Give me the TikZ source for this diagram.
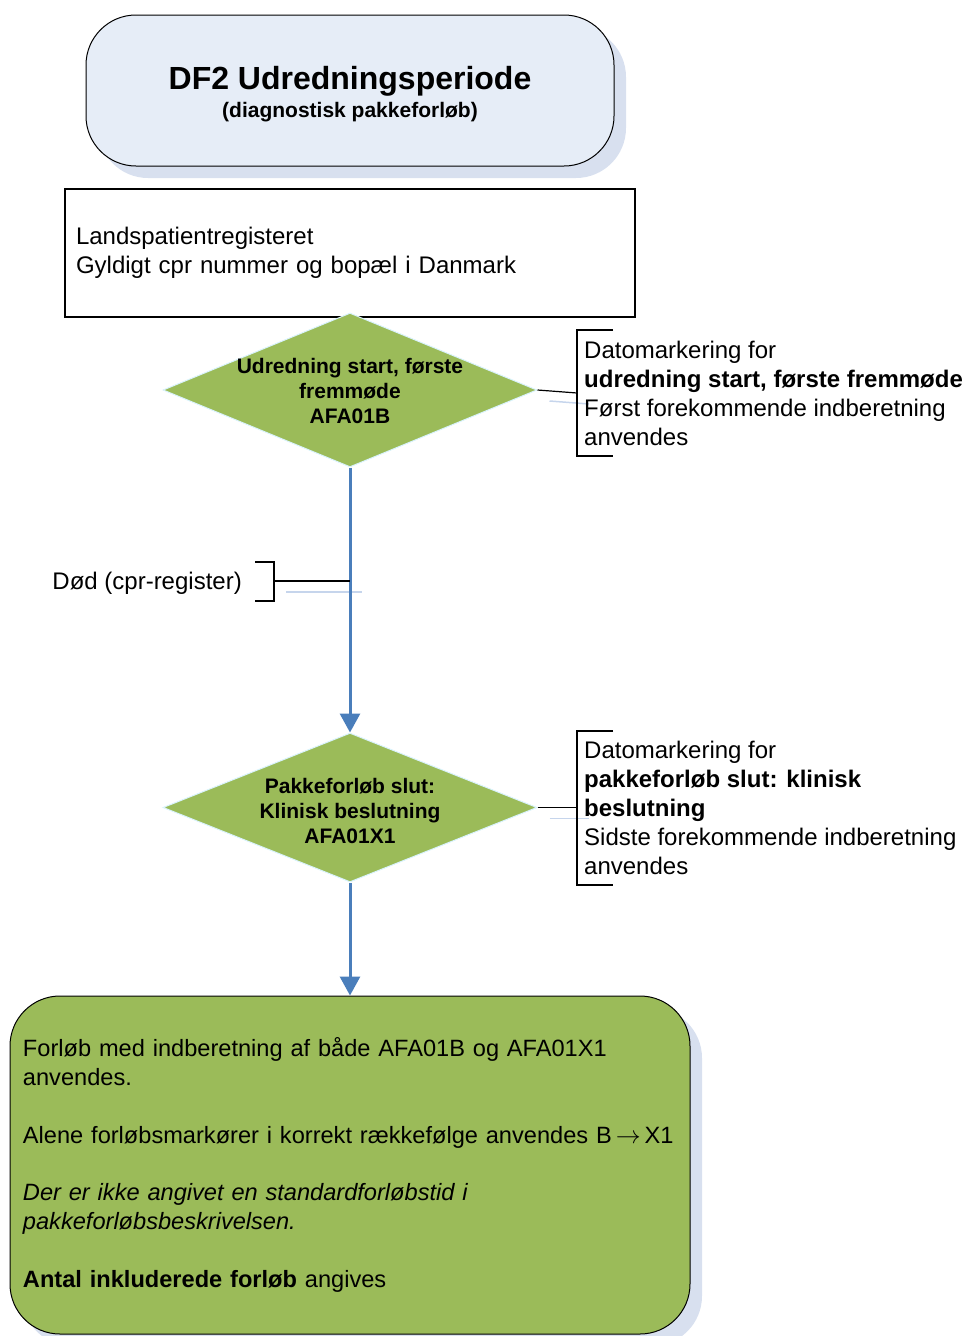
\documentclass[tikz,border=0pt]{standalone}
\usepackage{fontspec}
\setmainfont{Liberation Sans}
\usetikzlibrary{positioning, arrows.meta, shapes.geometric, shadows, backgrounds}
\definecolor{LeafGreen}{HTML}{9BBB59}
\definecolor{PaleBlue}{HTML}{E6EDF7}
\definecolor{ShadeBlue}{HTML}{D8E0EF}
\definecolor{FlowBlue}{HTML}{4A7EBB}
\definecolor{GhostBlue}{HTML}{C6D5EC}

\begin{document}
\begin{tikzpicture}[x=1pt, y=-1pt,
  bodytext/.style={font=\fontsize{24}{29}\selectfont},
  decision/.style={diamond, draw=cyan!15, line width=1pt, fill=LeafGreen,
    minimum width=374pt, inner sep=0pt},
  decisiontext/.style={font=\fontsize{21}{25}\selectfont\bfseries, align=center, inner sep=0pt},
  note/.style={bodytext, align=left, anchor=west, inner sep=0pt},
  bracketline/.style={line width=1.5pt, black},
  flow/.style={FlowBlue, line width=3pt, -{Triangle[width=20pt,length=19pt]}},
  ghost/.style={GhostBlue, line width=1.5pt, transform canvas={xshift=12pt, yshift=-11pt}},
]
  \useasboundingbox (0,0) rectangle (965,1336);

  % Header
  \node[draw, line width=1pt, fill=PaleBlue, rounded corners=50pt,
    minimum width=528pt, minimum height=151pt, align=center,
    drop shadow={shadow xshift=12pt, shadow yshift=-12pt, fill=ShadeBlue, opacity=1}]
    (title) at (350,90.5)
    {{\fontsize{32}{36}\selectfont\bfseries\rule{0pt}{30pt}DF2 Udredningsperiode}\\[5pt]
     {\fontsize{21}{25}\selectfont\bfseries (diagnostisk pakkeforløb)}};

  % Population
  \node[draw, line width=1.5pt, bodytext, align=left, text width=548pt,
    inner xsep=11pt, minimum height=128pt] (pop) at (350,253)
    {Landspatientregisteret\\Gyldigt cpr nummer og bopæl i Danmark};

  % Decisions
  \node[decision, minimum height=154pt] (d1) at (350,390) {};
  \node[decisiontext] (d1text) at (350,391) {Udredning start, første\\fremmøde\\AFA01B};
  \node[decision, minimum height=149pt] (d2) at (350,807.5) {};
  \node[decisiontext] (d2text) at (350,811) {Pakkeforløb slut:\\Klinisk beslutning\\AFA01X1};

  % Result
  \node[draw, line width=1pt, fill=LeafGreen, rounded corners=50pt,
    minimum width=680pt, minimum height=338pt,
    font=\fontsize{23.6}{28.8}\selectfont, align=left,
    text width=654pt, inner xsep=13pt,
    drop shadow={shadow xshift=12pt, shadow yshift=-12pt, fill=ShadeBlue, opacity=1}]
    (result) at (350,1165)
    {Forløb med indberetning af både AFA01B og AFA01X1\\anvendes.\\[28.8pt]
     \mbox{Alene forløbsmarkører i korrekt rækkefølge anvendes B\,$\rightarrow$\,X1}\\[28.8pt]
     \textit{Der er ikke angivet en standardforløbstid i}\\
     \textit{pakkeforløbsbeskrivelsen.}\\[28.8pt]
     \textbf{Antal inkluderede forløb} angives};

  % Notes
  \node[note] (n1) at (584,393) {Datomarkering for\\\textbf{udredning start, første fremmøde}\\
    Først forekommende indberetning\\anvendes};
  \node[note] (n2) at (584,808) {Datomarkering for\\\textbf{pakkeforløb slut: klinisk}\\
    \textbf{beslutning}\\Sidste forekommende indberetning\\anvendes};
  \node[bodytext, anchor=east, inner sep=0pt] (dod) at (242,583) {Død (cpr-register)};

  \coordinate (n1in) at (577,393);
  \coordinate (n2in) at (577,807.5);
  \coordinate (dodin) at (274,581);
  \coordinate (dodout) at (350,581);

  % Connector shadows
  \begin{scope}[on background layer]
    \draw[ghost] (d1.east) -- (n1in);
    \draw[ghost] (d2.east) -- (n2in);
    \draw[ghost] (dodin) -- (dodout);
  \end{scope}

  % Flow
  \draw[flow] (d1.south) -- (d2.north);
  \draw[flow] (d2.south) -- (result.north);

  % Brackets
  \draw[bracketline] (613,330) -- (577,330) -- (577,456) -- (613,456);
  \draw[bracketline] (613,731) -- (577,731) -- (577,885) -- (613,885);
  \draw[bracketline] (255,562) -- (274,562) -- (274,601) -- (255,601);
  \draw[line width=1.2pt] (d1.east) -- (n1in);
  \draw[line width=1.2pt] (d2.east) -- (n2in);
  \draw[line width=1.2pt] (dodin) -- (dodout);
\end{tikzpicture}
\end{document}
